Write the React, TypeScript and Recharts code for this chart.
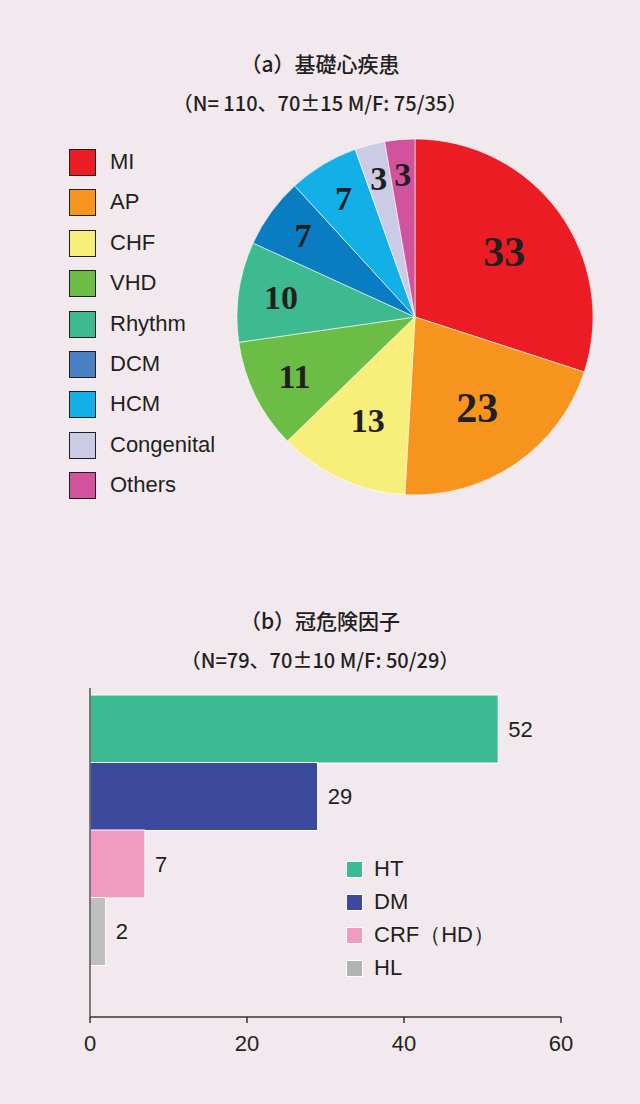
import React from 'react';
import { PieChart, Pie, Cell, BarChart, Bar, XAxis, YAxis, LabelList } from 'recharts';

// (a) underlying heart disease
const pieCategories = ['MI', 'AP', 'CHF', 'VHD', 'Rhythm', 'DCM', 'HCM', 'Congenital', 'Others'];
const pieValues = [33, 23, 13, 11, 10, 7, 7, 3, 3];
const sliceColors = ['#ec1c24', '#f7941e', '#f8ee7a', '#6cbd45', '#3dba8f', '#0a7cc2', '#12b0e6', '#cccbe5', '#d1529d'];
const pieLegendColors = ['#ec1c24', '#f7941e', '#f8ee7a', '#6cbd45', '#3dba8f', '#4a81c2', '#12b0e6', '#cccbe5', '#d1529d'];

// (b) coronary risk factors
const riskCategories = ['HT', 'DM', 'CRF（HD）', 'HL'];
const riskValues = [52, 29, 7, 2];
const riskColors = ['#3cba91', '#3b4a9c', '#f29bc1', '#bfbfbf'];
const riskLegendColors = ['#3cba91', '#3b4a9c', '#f29bc1', '#b3b3b3'];
const xTicks = [0, 20, 40, 60];

const BG = '#f2e9ee';
const INK = '#231f20';
const SANS = "'Liberation Sans', Arial, sans-serif";
const CJK = "'Noto Sans CJK JP', 'Noto Sans', sans-serif";

const pieData = pieCategories.map((name, i) => ({ name, value: pieValues[i] }));
const barData = riskCategories.map((name, i) => ({ name, value: riskValues[i] }));

const RADIAN = Math.PI / 180;

const renderPieLabel = ({ cx, cy, midAngle, outerRadius, value }: any) => {
  // small slices get their number pushed further out, big ones sit nearer the middle
  let factor = 0.82 - value * 0.006;
  if (value >= 20) factor = 0.62;
  else if (value >= 13) factor = 0.64;
  const r = outerRadius * factor;
  const x = cx + r * Math.cos(-midAngle * RADIAN);
  const y = cy + r * Math.sin(-midAngle * RADIAN);
  return (
    <text
      x={x}
      y={y}
      fill={INK}
      textAnchor="middle"
      dominantBaseline="central"
      fontFamily="'Liberation Serif', 'Times New Roman', serif"
      fontWeight="bold"
      fontSize={value >= 20 ? 42 : 34}
    >
      {value}
    </text>
  );
};

const Title = ({ text, y, size }: { text: string; y: number; size: number }) => (
  <div
    style={{
      position: 'absolute',
      left: 0,
      width: 640,
      top: y - 15,
      height: 30,
      lineHeight: '30px',
      textAlign: 'center',
      fontFamily: CJK,
      fontWeight: 500,
      fontSize: size,
      color: INK,
    }}
  >
    {text}
  </div>
);

export default function App() {
  return (
    <div style={{ position: 'absolute', left: 0, top: 0, width: 640, height: 1104, background: BG, overflow: 'hidden' }}>
      <Title text="（a）基礎心疾患" y={63} size={21} />
      <Title text="（N= 110、70±15 M/F: 75/35）" y={103} size={20} />

      {/* Pie */}
      <div style={{ position: 'absolute', left: 0, top: 0 }}>
        <PieChart width={640} height={540} margin={{ top: 0, right: 0, bottom: 0, left: 0 }}>
          <Pie
            data={pieData}
            dataKey="value"
            cx={415}
            cy={317}
            outerRadius={178}
            startAngle={90}
            endAngle={-270}
            stroke="#ffffff"
            strokeWidth={0.6}
            label={renderPieLabel}
            labelLine={false}
            isAnimationActive={false}
          >
            {pieData.map((entry, index) => (
              <Cell key={`cell-${index}`} fill={sliceColors[index]} />
            ))}
          </Pie>
        </PieChart>
      </div>

      {/* Pie legend */}
      {pieCategories.map((name, i) => (
        <div key={name}>
          <div
            style={{
              position: 'absolute',
              left: 69,
              top: 149 + i * 40.4,
              width: 25,
              height: 25,
              background: pieLegendColors[i],
              border: `1.5px solid ${INK}`,
            }}
          />
          <div
            style={{
              position: 'absolute',
              left: 110,
              top: 162 + i * 40.4 - 13,
              height: 26,
              lineHeight: '26px',
              fontFamily: SANS,
              fontSize: 22,
              color: INK,
            }}
          >
            {name}
          </div>
        </div>
      ))}

      <Title text="（b）冠危険因子" y={620} size={21} />
      <Title text="（N=79、70±10 M/F: 50/29）" y={660} size={20} />

      {/* Bars */}
      <div style={{ position: 'absolute', left: 0, top: 560 }}>
        <BarChart
          width={640}
          height={544}
          data={barData}
          layout="vertical"
          barCategoryGap={0}
          margin={{ top: 128, right: 79, bottom: 47, left: 80 }}
        >
          <XAxis
            type="number"
            domain={[0, 60]}
            ticks={xTicks}
            height={40}
            axisLine={{ stroke: '#333', strokeWidth: 1.5 }}
            tickLine={{ stroke: '#333', strokeWidth: 1.5 }}
            tickSize={6}
            tickMargin={12}
            tick={{ fill: INK, fontSize: 22, fontFamily: SANS }}
          />
          <YAxis
            type="category"
            dataKey="name"
            width={10}
            tick={false}
            tickLine={false}
            axisLine={{ stroke: '#555', strokeWidth: 1.5 }}
            padding={{ top: 7, bottom: 52 }}
          />
          <Bar dataKey="value" stroke="#ffffff" strokeWidth={1} isAnimationActive={false}>
            {barData.map((entry, index) => (
              <Cell key={`bar-${index}`} fill={riskColors[index]} />
            ))}
            <LabelList dataKey="value" position="right" offset={10} fill={INK} fontSize={22} fontFamily={SANS} />
          </Bar>
        </BarChart>
      </div>

      {/* Bar legend */}
      {riskCategories.map((name, i) => (
        <div key={name}>
          <div
            style={{
              position: 'absolute',
              left: 346,
              top: 861 + i * 33,
              width: 15,
              height: 15,
              background: riskLegendColors[i],
              border: '1px solid #ffffff',
            }}
          />
          <div
            style={{
              position: 'absolute',
              left: 374,
              top: 869 + i * 33 - 13,
              height: 26,
              lineHeight: '26px',
              fontFamily: SANS,
              fontSize: 22,
              color: INK,
              whiteSpace: 'nowrap',
            }}
          >
            {name}
          </div>
        </div>
      ))}
    </div>
  );
}
